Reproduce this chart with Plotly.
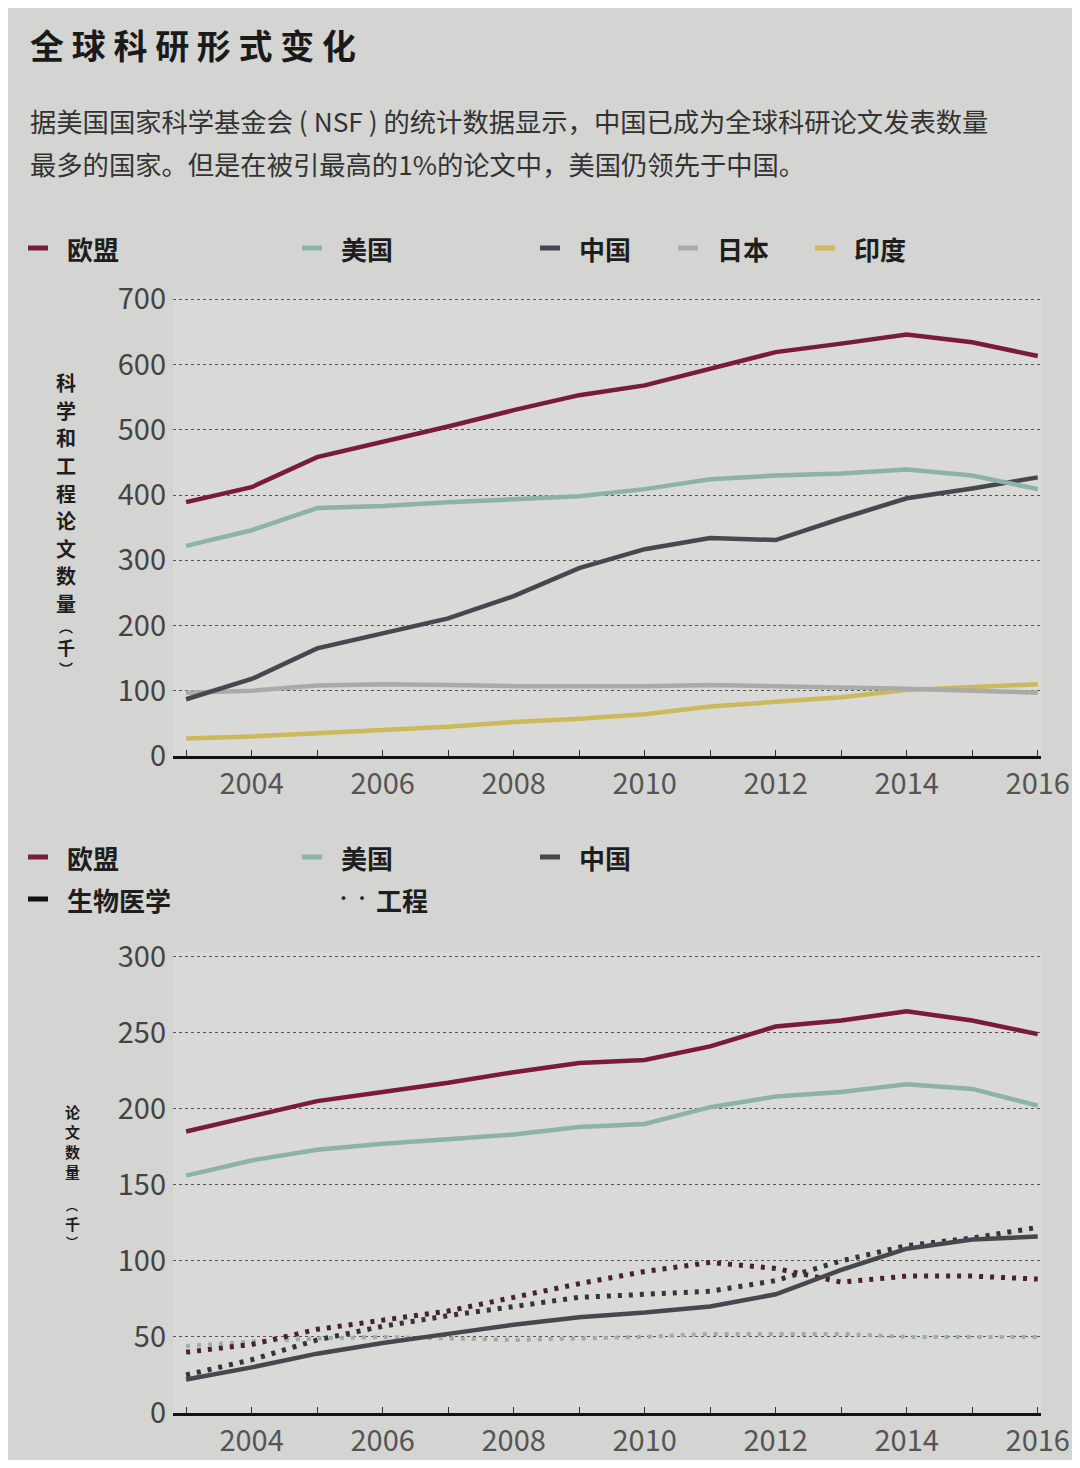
import plotly.graph_objects as go

# --- data ---
years = list(range(2003, 2017))

# top: science & engineering papers (thousands)
eu_total = [389, 412, 458, 481, 505, 530, 553, 568, 594, 619, 632, 646, 634, 613]
us_total = [322, 346, 380, 383, 389, 394, 398, 409, 424, 430, 433, 439, 430, 409]
cn_total = [87, 118, 165, 188, 211, 245, 288, 317, 334, 331, 364, 395, 410, 427]
jp_total = [97, 100, 108, 110, 109, 107, 107, 107, 109, 107, 106, 103, 100, 97]
in_total = [27, 30, 35, 40, 45, 52, 57, 64, 76, 83, 90, 101, 105, 110]

# bottom: biomedical (solid) and engineering (dotted) papers (thousands)
eu_bio = [185, 195, 205, 211, 217, 224, 230, 232, 241, 254, 258, 264, 258, 249]
us_bio = [156, 166, 173, 177, 180, 183, 188, 190, 201, 208, 211, 216, 213, 202]
cn_bio = [22, 30, 39, 46, 52, 58, 63, 66, 70, 78, 94, 108, 114, 116]
eu_eng = [40, 45, 55, 61, 67, 76, 85, 93, 99, 95, 86, 90, 90, 88]
us_eng = [44, 47, 49, 50, 49, 48, 49, 50, 52, 52, 52, 50, 50, 50]
cn_eng = [25, 35, 48, 57, 64, 70, 76, 78, 80, 87, 100, 110, 115, 122]

tick_years = years
tick_text = [str(y) if y % 2 == 0 else "" for y in years]

EU = "#7a1a3c"
US = "#8db3a8"
CN = "#47474f"
JP = "#a9abaa"
IN = "#cdb95c"
FONT = "Noto Sans CJK SC"

# page body has an 8px margin, so the figure is sized to fit inside it
W, H = 1064.0, 1452.0
OFF = 8


def px(x):
    return (x - OFF) / W


def py(y):
    return 1 - (y - OFF) / H


fig = go.Figure()


def line(x, y, color, xa, ya, dash="solid", width=4.5):
    fig.add_trace(go.Scatter(x=x, y=y, mode="lines", xaxis=xa, yaxis=ya, showlegend=False,
                             line=dict(color=color, width=width, dash=dash)))


line(years, in_total, IN, "x", "y")
line(years, jp_total, JP, "x", "y")
line(years, cn_total, CN, "x", "y")
line(years, us_total, US, "x", "y")
line(years, eu_total, EU, "x", "y")

dots = "4px,7px"
line(years, us_eng, "#9fadaa", "x2", "y2", dash=dots, width=4)
line(years, eu_eng, "#4a2030", "x2", "y2", dash=dots, width=5)
line(years, cn_eng, "#34343a", "x2", "y2", dash=dots, width=5)
line(years, cn_bio, CN, "x2", "y2")
line(years, us_bio, US, "x2", "y2")
line(years, eu_bio, EU, "x2", "y2")

xdom = [px(173), px(1041)]

xaxis_common = dict(range=[2002.8, 2016.05], tickvals=tick_years, ticktext=tick_text,
                    showgrid=False, zeroline=False, showline=True, linecolor="#111", linewidth=3,
                    ticks="inside", ticklen=6, tickwidth=1, tickcolor="#333", automargin=False,
                    tickfont=dict(family=FONT, size=29, color="#555"), domain=xdom)
yaxis_common = dict(showgrid=True, gridcolor="#555", griddash="dot", gridwidth=1.2,
                    zeroline=False, showline=False, ticks="", automargin=False,
                    tickfont=dict(family=FONT, size=29, color="#444"), ticklabelstandoff=6)

fig.update_layout(
    template="none",
    width=W, height=H,
    margin=dict(l=0, r=0, t=0, b=0, autoexpand=False),
    paper_bgcolor="#d4d4d2", plot_bgcolor="#d9d9d7",
    showlegend=False,
    xaxis=dict(xaxis_common, anchor="y"),
    yaxis=dict(yaxis_common, range=[0, 705], tickvals=[0, 100, 200, 300, 400, 500, 600, 700],
               domain=[py(756), py(296)], anchor="x"),
    xaxis2=dict(xaxis_common, anchor="y2"),
    yaxis2=dict(yaxis_common, range=[0, 303], tickvals=[0, 50, 100, 150, 200, 250, 300],
                domain=[py(1413), py(952)], anchor="x2"),
)

ann = []
shapes = []


def text(x, y, s, size, color="#222", weight="normal", xanchor="left"):
    ann.append(dict(text=s, x=px(x), y=py(y), xref="paper", yref="paper",
                    xanchor=xanchor, yanchor="middle", showarrow=False, align="left",
                    font=dict(family=FONT, size=size, color=color, weight=weight)))


# title & subtitle
text(28, 44, "全 球 科 研 形 式 变 化", 34, "#1a1a1a", "bold")
text(28, 120, "据美国国家科学基金会 ( NSF ) 的统计数据显示，中国已成为全球科研论文发表数量", 26.3, "#333")
text(28, 163, "最多的国家。但是在被引最高的1%的论文中，美国仍领先于中国。", 26.3, "#333")


def legend_item(x, y, color, label, dotted=False):
    if dotted:
        text(x, y - 2, "• •", 15, "#222", "bold")
        text(x + 40, y, label, 26, "#1e1e1e", "bold")
        return
    shapes.append(dict(type="line", xref="paper", yref="paper",
                       x0=px(x), x1=px(x + 20), y0=py(y), y1=py(y),
                       line=dict(color=color, width=5)))
    text(x + 37, y, label, 26, "#1e1e1e", "bold")


# top legend
for lx, col, lab in [(28, EU, "欧盟"), (302, US, "美国"), (540, CN, "中国"),
                     (678, JP, "日本"), (815, IN, "印度")]:
    legend_item(lx, 248, col, lab)

# bottom legend
for lx, col, lab in [(28, EU, "欧盟"), (302, US, "美国"), (540, CN, "中国")]:
    legend_item(lx, 857, col, lab)
legend_item(28, 899, "#111", "生物医学")
legend_item(334, 899, "#111", "工程", dotted=True)

# vertical (stacked) axis titles, one character per annotation
for i, ch in enumerate("科学和工程论文数量"):
    text(66, 383 + 27.5 * i, ch, 20, "#1e1e1e", "bold", "center")
text(66, 626, "︵", 14, "#1e1e1e", "bold", "center")
text(66, 647, "千", 18, "#1e1e1e", "bold", "center")
text(66, 668, "︶", 14, "#1e1e1e", "bold", "center")

for i, ch in enumerate("论文数量"):
    text(72, 1111 + 20 * i, ch, 15, "#1e1e1e", "bold", "center")
text(72, 1205, "︵", 12, "#1e1e1e", "bold", "center")
text(72, 1223, "千", 15, "#1e1e1e", "bold", "center")
text(72, 1241, "︶", 12, "#1e1e1e", "bold", "center")

fig.update_layout(annotations=ann, shapes=shapes)
fig.write_html("out.html")
